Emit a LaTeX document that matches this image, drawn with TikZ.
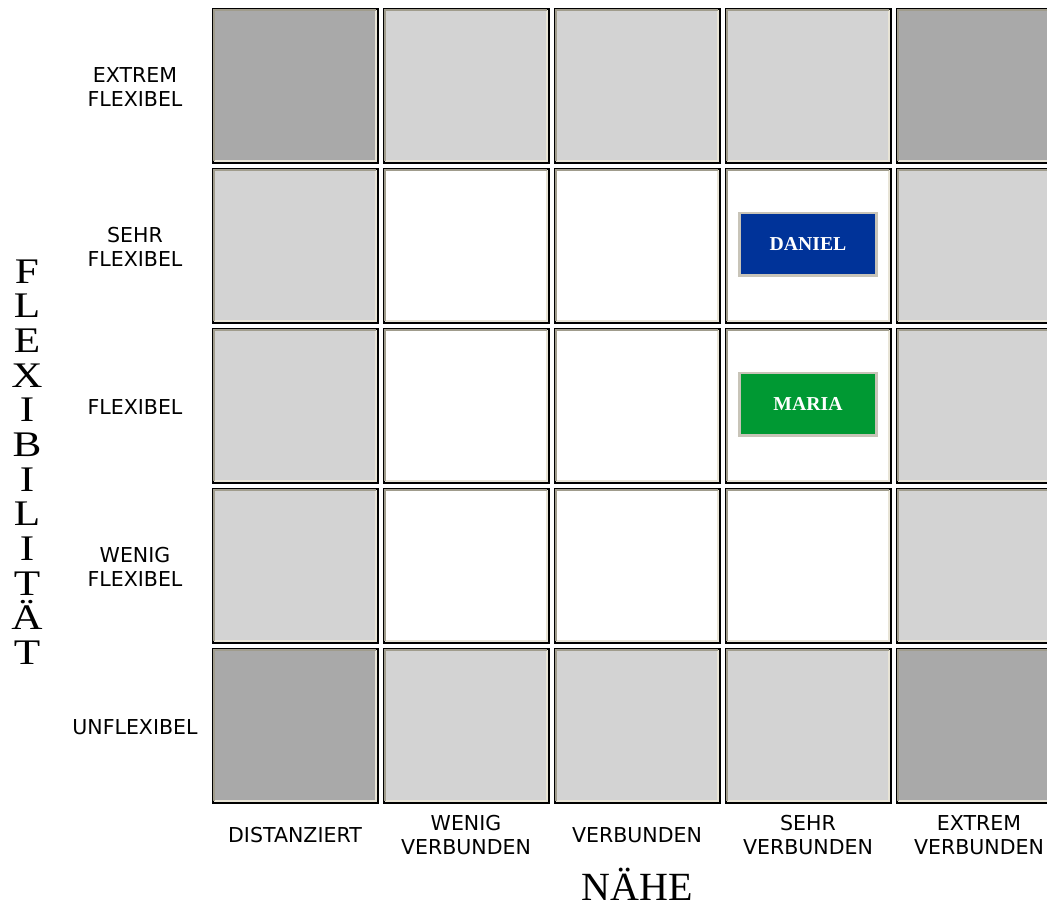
\documentclass[tikz,border=0pt]{standalone}
\usepackage{fontspec}
\setsansfont{DejaVu Sans}
\newfontfamily\titlefont{Liberation Serif}
\newfontfamily\buttonfont{Liberation Serif}
\usetikzlibrary{positioning}
\definecolor{CornerGray}{RGB}{169, 169, 169}
\definecolor{EdgeGray}{RGB}{211, 211, 211}
\definecolor{BevelDark}{RGB}{160, 156, 140}
\definecolor{BevelLight}{RGB}{232, 228, 214}
\definecolor{ButtonFrame}{RGB}{200, 196, 184}
\definecolor{DanielBlue}{RGB}{0, 51, 153}
\definecolor{MariaGreen}{RGB}{0, 153, 51}

\begin{document}
\begin{tikzpicture}[
    x=0.75pt, y=-0.75pt,
    cell/.style={rectangle, draw=black, line width=1.5pt, minimum width=123.75pt, minimum height=115.5pt, inner sep=0pt},
    bevel dark/.style={draw=BevelDark, line width=1.1pt},
    bevel light/.style={draw=BevelLight, line width=1.5pt},
    person/.style={rectangle, draw=ButtonFrame, line width=2pt, minimum width=103pt, minimum height=47pt, text=white, font=\buttonfont\bfseries\fontsize{14.8}{15}\selectfont},
    rowlabel/.style={align=center, font=\sffamily\fontsize{15.4}{18}\selectfont},
    axislabel/.style={inner sep=0pt, font=\titlefont\fontsize{30}{30}\selectfont}
  ]
    \useasboundingbox (0,0) rectangle (1047,908);
    \clip (0,0) rectangle (1047,908);

    % grid of cells
    \foreach \c in {1,...,5}
      \foreach \r in {1,...,5} {
        \pgfmathtruncatemacro\edge{(\c==1)+(\c==5)+(\r==1)+(\r==5)}
        \ifcase\edge \def\cellfill{white}\or \def\cellfill{EdgeGray}\else \def\cellfill{CornerGray}\fi
        \node[cell, fill=\cellfill] (cell-\c-\r) at (124+171*\c, -74.5+160*\r) {};
        \draw[bevel light] ([shift={(2.5,-2.5)}]cell-\c-\r.south west) -| ([shift={(-2.5,2.5)}]cell-\c-\r.north east);
        \draw[bevel dark] ([shift={(2.5,-2.5)}]cell-\c-\r.south west) |- ([shift={(-2.5,2.5)}]cell-\c-\r.north east);
      }

    \node[person, fill=DanielBlue] (daniel) at ([yshift=1pt]cell-4-2) {DANIEL};
    \node[person, fill=MariaGreen] (maria) at ([yshift=1pt]cell-4-3) {MARIA};

    % row and column labels
    \foreach \lab [count=\r] in {{EXTREM\\FLEXIBEL}, {SEHR\\FLEXIBEL}, {FLEXIBEL}, {WENIG\\FLEXIBEL}, {UNFLEXIBEL}}
      \node[rowlabel] (row-\r) at ([xshift=-120pt, yshift=-1pt]cell-1-\r) {\lab};
    \foreach \lab [count=\c] in {{DISTANZIERT}, {WENIG\\VERBUNDEN}, {VERBUNDEN}, {SEHR\\VERBUNDEN}, {EXTREM\\VERBUNDEN}}
      \node[rowlabel] (col-\c) at ([yshift=-82.5pt]cell-\c-5) {\lab};

    \node[axislabel, anchor=base] (naehe) at (637, 900) {NÄHE};
    \node[align=center, xscale=1.2, transform shape, font=\titlefont\fontsize{27}{26}\selectfont] (flex) at (27, 462) {F\\L\\E\\X\\I\\B\\I\\L\\I\\T\\Ä\\T};
  \end{tikzpicture}
\end{document}
